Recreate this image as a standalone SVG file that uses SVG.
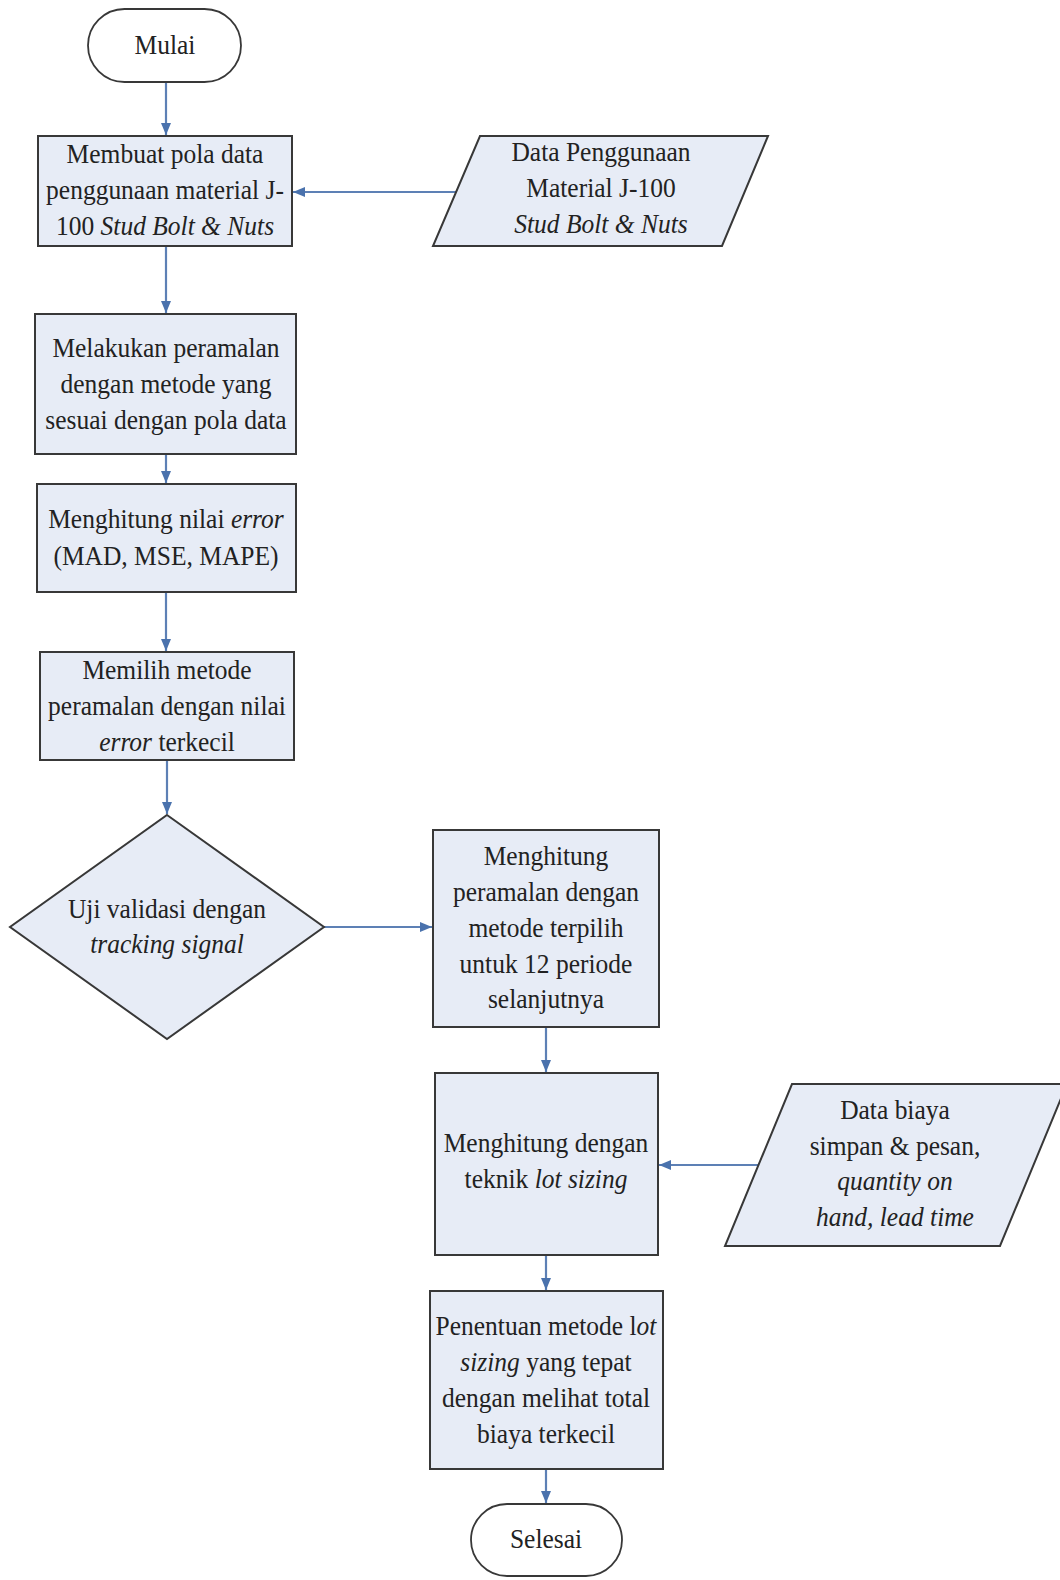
<svg xmlns="http://www.w3.org/2000/svg" width="1060" height="1580" viewBox="0 0 1060 1580">
<style>
.box{fill:#e7ecf6;stroke:#383838;stroke-width:2}
.term{fill:#ffffff;stroke:#383838;stroke-width:1.8}
.t{font-family:"Liberation Serif","Times New Roman",serif;font-size:25.5px;fill:#222;text-anchor:middle;transform-box:fill-box;transform-origin:50% 72%;transform:scaleY(1.1)}
.i{font-style:italic}
.c{stroke:#5d80b5;stroke-width:2.2;fill:none;marker-end:url(#ah)}
</style>
<defs>
<marker id="ah" markerUnits="userSpaceOnUse" markerWidth="14" markerHeight="14" viewBox="0 0 14 14" refX="12" refY="7" orient="auto">
<path d="M0,2 L12,7 L0,12 Z" fill="#4a72ad"/>
</marker>
</defs>
<rect width="1060" height="1580" fill="#ffffff"/>
<g id="connectors">
<line class="c" x1="166" y1="82" x2="166" y2="135"/>
<line class="c" x1="456" y1="192" x2="293" y2="192"/>
<line class="c" x1="166" y1="246" x2="166" y2="313"/>
<line class="c" x1="166" y1="454" x2="166" y2="483"/>
<line class="c" x1="166" y1="592" x2="166" y2="651"/>
<line class="c" x1="167" y1="760" x2="167" y2="814"/>
<line class="c" x1="324" y1="927" x2="432" y2="927"/>
<line class="c" x1="546" y1="1027" x2="546" y2="1072"/>
<line class="c" x1="758" y1="1165" x2="659" y2="1165"/>
<line class="c" x1="546" y1="1255" x2="546" y2="1290"/>
<line class="c" x1="546" y1="1469" x2="546" y2="1503"/>
</g>
<g id="mulai">
<rect class="term" x="88" y="9" width="153" height="73" rx="36.5"/>
<text class="t" x="165" y="54">Mulai</text>
</g>
<g id="box1">
<rect class="box" x="38" y="136" width="254" height="110"/>
<text class="t" x="165" y="163">Membuat pola data</text>
<text class="t" x="165" y="199">penggunaan material J-</text>
<text class="t" x="165" y="235">100 <tspan class="i">Stud Bolt &amp; Nuts</tspan></text>
</g>
<g id="data1">
<polygon class="box" points="480,136 768,136 722,246 433,246"/>
<text class="t" x="601" y="161">Data Penggunaan</text>
<text class="t" x="601" y="197">Material J-100</text>
<text class="t i" x="601" y="233">Stud Bolt &amp; Nuts</text>
</g>
<g id="box2">
<rect class="box" x="35" y="314" width="261" height="140"/>
<text class="t" x="166" y="357">Melakukan peramalan</text>
<text class="t" x="166" y="393">dengan metode yang</text>
<text class="t" x="166" y="429">sesuai dengan pola data</text>
</g>
<g id="box3">
<rect class="box" x="37" y="484" width="259" height="108"/>
<text class="t" x="166" y="528">Menghitung nilai <tspan class="i">error</tspan></text>
<text class="t" x="166" y="565">(MAD, MSE, MAPE)</text>
</g>
<g id="box4">
<rect class="box" x="40" y="652" width="254" height="108"/>
<text class="t" x="167" y="679">Memilih metode</text>
<text class="t" x="167" y="715">peramalan dengan nilai</text>
<text class="t" x="167" y="751"><tspan class="i">error</tspan> terkecil</text>
</g>
<g id="decision">
<polygon class="box" points="167,815 324,927 167,1039 10,927"/>
<text class="t" x="167" y="918">Uji validasi dengan</text>
<text class="t i" x="167" y="953">tracking signal</text>
</g>
<g id="box5">
<rect class="box" x="433" y="830" width="226" height="197"/>
<text class="t" x="546" y="865">Menghitung</text>
<text class="t" x="546" y="901">peramalan dengan</text>
<text class="t" x="546" y="937">metode terpilih</text>
<text class="t" x="546" y="973">untuk 12 periode</text>
<text class="t" x="546" y="1008">selanjutnya</text>
</g>
<g id="box6">
<rect class="box" x="435" y="1073" width="223" height="182"/>
<text class="t" x="546" y="1152">Menghitung dengan</text>
<text class="t" x="546" y="1188">teknik <tspan class="i">lot sizing</tspan></text>
</g>
<g id="data2">
<polygon class="box" points="792,1084 1067,1084 1000,1246 725,1246"/>
<text class="t" x="895" y="1119">Data biaya</text>
<text class="t" x="895" y="1155">simpan &amp; pesan,</text>
<text class="t i" x="895" y="1190">quantity on</text>
<text class="t i" x="895" y="1226">hand, lead time</text>
</g>
<g id="box7">
<rect class="box" x="430" y="1291" width="233" height="178"/>
<text class="t" x="546" y="1335">Penentuan metode l<tspan class="i">ot</tspan></text>
<text class="t" x="546" y="1371"><tspan class="i">sizing</tspan> yang tepat</text>
<text class="t" x="546" y="1407">dengan melihat total</text>
<text class="t" x="546" y="1443">biaya terkecil</text>
</g>
<g id="selesai">
<rect class="term" x="471" y="1504" width="151" height="72" rx="36"/>
<text class="t" x="546" y="1548">Selesai</text>
</g>
</svg>
